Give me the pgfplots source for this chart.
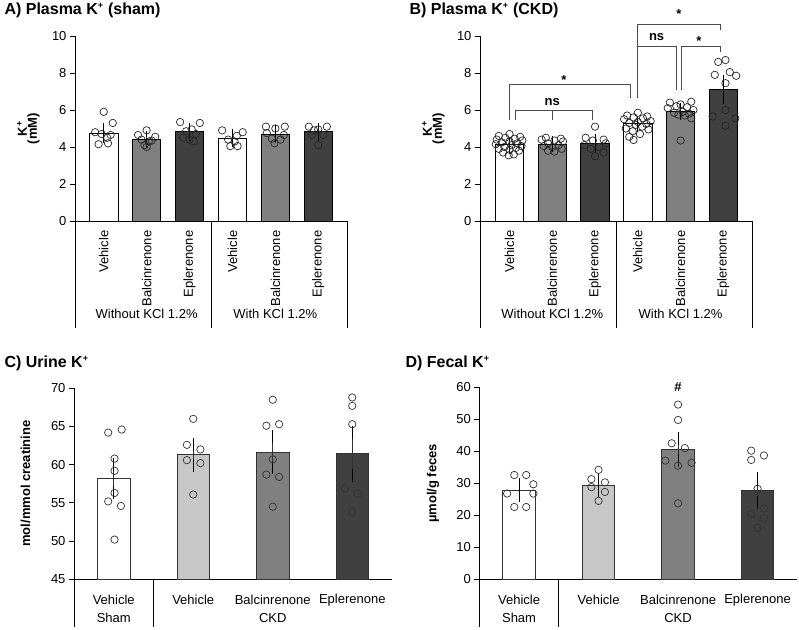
\documentclass[border=0pt]{standalone}
\usepackage{pgfplots}
\pgfplotsset{compat=1.18}
\usepackage{fontspec}
\setmainfont{Liberation Sans}

\definecolor{barmid}{gray}{0.5}
\definecolor{bardark}{gray}{0.25}
\definecolor{barlight}{gray}{0.78}
\definecolor{edgegray}{gray}{0.2}
\definecolor{brk}{gray}{0.3}

\newcommand{\tfont}{\fontsize{13}{15}\selectfont}
\newcommand{\hfont}{\bfseries\fontsize{16}{18}\selectfont}
\newcommand{\plus}{\textsuperscript{\fontsize{9}{9}\selectfont +}}

\pgfplotsset{
  panel/.style={
    scale only axis,
    axis lines=left,
    axis line style={-, line width=0.9pt},
    tick align=outside,
    major tick length=5pt,
    ytick style={line width=0.9pt, black},
    xtick style={draw=none},
    /pgf/number format/assume math mode=true,
    tick label style={font=\tfont},
    clip=false,
  },
  ebars/.style={
    /pgfplots/error bars/y dir=both,
    /pgfplots/error bars/y explicit,
    /pgfplots/error bars/error bar style={line width=#1},
    /pgfplots/error bars/error mark options={line width=#1, mark size=6.5pt},
  },
  barsAB/.style={ybar, bar width=28.5pt, bar shift=0pt, draw=black, line width=0.9pt, ebars=0.9pt},
  barsCD/.style={ybar, bar width=32.5pt, bar shift=0pt, draw=edgegray, line width=0.8pt, ebars=0.7pt},
  dotsAB/.style={only marks, mark=o, mark size=3.7pt, mark options={draw=black!85, line width=0.7pt}},
  dotsCD/.style={only marks, mark=o, mark size=3.7pt, mark options={draw=edgegray, line width=0.7pt}},
}

\begin{document}
\begin{tikzpicture}
\useasboundingbox (0,0) rectangle (799pt,629pt);

% ---------------- A) Plasma K+ (sham) ----------------
\node[anchor=base west, font=\hfont] at (1pt,614pt) {A) Plasma K\plus{} (sham)};
\node[rotate=90, font=\bfseries\tfont] at (22pt,500.5pt) {K\plus};
\node[rotate=90, font=\bfseries\tfont] at (33.5pt,500.5pt) {(mM)};
\begin{axis}[panel, at={(75pt,408pt)}, anchor=south west, width=272pt, height=185pt,
  xmin=-0.67, xmax=5.67, ymin=0, ymax=10, ytick={0,2,...,10},
  xtick={0,...,5},
  xticklabels={Vehicle,Balcinrenone,Eplerenone,Vehicle,Balcinrenone,Eplerenone},
  xticklabel style={rotate=90, anchor=east}, xticklabel shift=1pt]
\addplot[barsAB, fill=white] table[x=x, y=y, y error=e] {
x y e
0 4.75 0.18
3 4.48 0.13
};
\addplot[barsAB, fill=barmid] table[x=x, y=y, y error=e] {
x y e
1 4.40 0.10
4 4.70 0.12
};
\addplot[barsAB, fill=bardark] table[x=x, y=y, y error=e] {
x y e
2 4.83 0.13
5 4.82 0.12
};
\addplot[dotsAB] coordinates {
(0.00,5.9) (0.21,5.3) (-0.20,4.8) (0.16,4.65) (-0.05,4.7) (0.08,4.5) (-0.12,4.15) (0.10,4.2)
(1.00,4.9) (0.80,4.65) (1.20,4.55) (0.88,4.4) (1.12,4.35) (1.05,4.3) (0.95,4.1) (1.00,4.0)
(1.78,5.35) (2.24,5.3) (2.05,4.95) (1.92,4.85) (2.15,4.7) (1.85,4.5) (2.00,4.4) (2.10,4.3)
(2.76,4.9) (3.24,4.8) (3.10,4.6) (2.90,4.4) (3.05,4.3) (2.95,4.05) (3.12,4.05)
(3.78,5.1) (4.00,5.0) (4.22,5.1) (3.80,4.75) (4.20,4.65) (3.92,4.45) (4.12,4.4) (3.98,4.2)
(4.78,5.1) (5.20,5.1) (5.00,4.95) (4.90,4.9) (4.85,4.65) (5.12,4.65) (5.00,4.1)
};
\draw[line width=0.9pt] (rel axis cs:0,0) -- ++(0pt,-107pt);
\draw[line width=0.9pt] (axis cs:2.5,0) -- ++(0pt,-107pt);
\draw[line width=0.9pt] (rel axis cs:1,0) -- ++(0pt,-107pt);
\node[font=\tfont] at (axis cs:1,0) [yshift=-93pt] {Without KCl 1.2\%};
\node[font=\tfont] at (axis cs:4,0) [yshift=-93pt] {With KCl 1.2\%};
\end{axis}

% ---------------- B) Plasma K+ (CKD) ----------------
\node[anchor=base west, font=\hfont] at (406pt,614pt) {B) Plasma K\plus{} (CKD)};
\node[rotate=90, font=\bfseries\tfont] at (427pt,500.5pt) {K\plus};
\node[rotate=90, font=\bfseries\tfont] at (438.5pt,500.5pt) {(mM)};
\begin{axis}[panel, at={(480pt,408pt)}, anchor=south west, width=272pt, height=185pt,
  xmin=-0.69, xmax=5.67, ymin=0, ymax=10, ytick={0,2,...,10},
  xtick={0,...,5},
  xticklabels={Vehicle,Balcinrenone,Eplerenone,Vehicle,Balcinrenone,Eplerenone},
  xticklabel style={rotate=90, anchor=east}, xticklabel shift=1pt]
\addplot[barsAB, fill=white] table[x=x, y=y, y error=e] {
x y e
0 4.12 0.07
3 5.25 0.10
};
\addplot[barsAB, fill=barmid] table[x=x, y=y, y error=e] {
x y e
1 4.15 0.07
4 5.92 0.12
};
\addplot[barsAB, fill=bardark] table[x=x, y=y, y error=e] {
x y e
2 4.20 0.15
5 7.10 0.45
};
\addplot[dotsAB] coordinates {
(0.00,4.7) (-0.25,4.6) (0.25,4.55) (-0.10,4.5) (0.12,4.45) (-0.30,4.4) (0.30,4.35)
(0.00,4.3) (-0.18,4.25) (0.18,4.2) (-0.32,4.15) (0.05,4.1) (0.28,4.05) (-0.12,4.0)
(0.15,3.95) (-0.25,3.9) (0.00,3.85) (0.22,3.8) (-0.15,3.7) (0.10,3.6) (-0.02,3.55)
(0.85,4.5) (1.20,4.45) (0.75,4.4) (1.05,4.35) (1.25,4.3) (0.90,4.2) (1.15,4.1)
(0.80,4.05) (1.00,4.0) (1.22,3.9) (0.90,3.8) (1.05,3.75)
(2.00,5.1) (1.78,4.5) (2.20,4.4) (1.95,4.35) (2.25,4.2) (1.75,4.1) (2.10,4.0)
(1.90,3.9) (2.20,3.7) (2.00,3.5)
(3.00,5.85) (2.75,5.7) (3.22,5.65) (2.90,5.6) (3.12,5.55) (2.68,5.5) (3.30,5.4)
(3.00,5.35) (2.80,5.3) (3.20,5.25) (2.95,5.2) (3.10,5.1) (2.72,5.0) (3.25,4.95)
(2.88,4.85) (3.05,4.7) (2.80,4.55) (2.90,4.38)
(4.25,6.45) (3.75,6.4) (4.00,6.3) (3.90,6.2) (4.15,6.15) (3.70,6.1) (4.30,6.0)
(4.05,5.9) (3.85,5.85) (4.20,5.8) (3.95,5.75) (4.10,5.7) (4.25,5.55) (4.00,4.35)
(4.88,8.6) (5.05,8.7) (4.80,7.9) (5.15,8.05) (5.30,7.85) (5.05,7.45) (5.05,6.0)
(4.75,5.65) (5.28,5.55) (5.05,5.15)
};
\draw[line width=0.9pt] (rel axis cs:0,0) -- ++(0pt,-107pt);
\draw[line width=0.9pt] (axis cs:2.5,0) -- ++(0pt,-107pt);
\draw[line width=0.9pt] (rel axis cs:1,0) -- ++(0pt,-107pt);
\node[font=\tfont] at (axis cs:1,0) [yshift=-93pt] {Without KCl 1.2\%};
\node[font=\tfont] at (axis cs:4,0) [yshift=-93pt] {With KCl 1.2\%};
% significance brackets
\begin{scope}[draw=brk, line width=0.9pt]
\draw (axis cs:0.15,5.45) -- (axis cs:0.15,5.96) -- (axis cs:1.93,5.96) -- (axis cs:1.93,5.45);
\draw (axis cs:1,5.96) -- (axis cs:1,5.45);
\draw (axis cs:0,5.46) -- (axis cs:0,7.4) -- (axis cs:2.83,7.4) -- (axis cs:2.83,6.65);
\draw (axis cs:2.98,6.65) -- (axis cs:2.98,10.65) -- (axis cs:4.94,10.65) -- (axis cs:4.94,10.3);
\draw (axis cs:2.98,9.42) -- (axis cs:3.91,9.42) -- (axis cs:3.91,7.08);
\draw (axis cs:4.02,7.08) -- (axis cs:4.02,9.42) -- (axis cs:4.94,9.42) -- (axis cs:4.94,9.15);
\end{scope}
\node[font=\bfseries\tfont] at (axis cs:1,6.43) {ns};
\node[font=\bfseries\tfont] at (axis cs:1.27,7.64) {*};
\node[font=\bfseries\tfont] at (axis cs:3.44,9.96) {ns};
\node[font=\bfseries\tfont] at (axis cs:4.43,9.75) {*};
\node[font=\bfseries\tfont] at (axis cs:3.96,11.17) {*};
\end{axis}

% ---------------- C) Urine K+ ----------------
\node[anchor=base west, font=\hfont] at (1pt,261pt) {C) Urine K\plus};
\node[rotate=90, font=\bfseries\tfont] at (25.5pt,145.5pt) {mol/mmol creatinine};
\begin{axis}[panel, at={(74pt,49.7pt)}, anchor=south west, width=318pt, height=191pt,
  xmin=-0.5, xmax=3.5, ymin=45, ymax=70, ytick={45,50,...,70},
  xtick={0,...,3}, xticklabels={Vehicle,Vehicle,Balcinrenone,Eplerenone},
  xticklabel style={anchor=center, yshift=-16pt}]
\addplot[barsCD, fill=white] table[x=x, y=y, y error=e] {
x y e
0 58.2 1.85
};
\addplot[barsCD, fill=barlight] table[x=x, y=y, y error=e] {
x y e
1 61.3 1.4
};
\addplot[barsCD, fill=barmid] table[x=x, y=y, y error=e] {
x y e
2 61.65 2.0
};
\addplot[barsCD, fill=bardark] table[x=x, y=y, y error=e] {
x y e
3 61.45 2.8
};
\addplot[dotsCD] coordinates {
(-0.07,64.2) (0.10,64.6) (0.01,60.8) (0.01,59.2) (0.01,56.3) (-0.07,55.2) (0.09,54.6) (0.01,50.2)
(0.92,62.6) (1.09,62.0) (0.92,60.6) (1.09,60.2) (1.00,66.0) (1.00,56.1)
(2.00,68.5) (1.92,65.1) (2.08,65.3) (2.00,60.7) (1.92,58.7) (2.08,58.4) (2.00,54.5)
(3.00,68.8) (3.00,67.7) (3.00,65.3) (2.91,56.9) (3.07,56.2) (3.00,53.8)
};
\draw[line width=0.9pt] (rel axis cs:0,0) -- ++(0pt,-48pt);
\draw[line width=0.9pt] (axis cs:0.5,45) -- ++(0pt,-48pt);
\node[font=\tfont] at (axis cs:0,45) [yshift=-38.7pt] {Sham};
\node[font=\tfont] at (axis cs:2,45) [yshift=-38.7pt] {CKD};
\end{axis}

% ---------------- D) Fecal K+ ----------------
\node[anchor=base west, font=\hfont] at (402pt,261pt) {D) Fecal K\plus};
\node[rotate=90, font=\bfseries\tfont] at (433pt,145.7pt) {µmol/g feces};
\begin{axis}[panel, at={(479.3pt,49.7pt)}, anchor=south west, width=318pt, height=192pt,
  xmin=-0.5, xmax=3.5, ymin=0, ymax=60, ytick={0,10,...,60},
  xtick={0,...,3}, xticklabels={Vehicle,Vehicle,Balcinrenone,Eplerenone},
  xticklabel style={anchor=center, yshift=-16pt}]
\addplot[barsCD, fill=white] table[x=x, y=y, y error=e] {
x y e
0 27.8 1.7
};
\addplot[barsCD, fill=barlight] table[x=x, y=y, y error=e] {
x y e
1 29.5 1.6
};
\addplot[barsCD, fill=barmid] table[x=x, y=y, y error=e] {
x y e
2 40.5 3.4
};
\addplot[barsCD, fill=bardark] table[x=x, y=y, y error=e] {
x y e
3 27.8 3.8
};
\addplot[dotsCD] coordinates {
(-0.06,32.6) (0.09,32.6) (0.18,29.7) (-0.15,26.8) (0.18,26.8) (-0.06,22.6) (0.09,22.6)
(1.00,34.2) (0.91,31.3) (1.08,30.3) (0.91,28.8) (1.08,27.3) (1.00,24.5)
(2.00,54.6) (2.00,49.8) (1.92,42.5) (2.085,41.0) (1.84,37.1) (2.17,36.4) (2.00,35.5) (2.00,23.75)
(2.92,40.2) (3.08,38.7) (2.92,37.3) (3.00,28.3) (3.08,22.2) (2.92,20.4) (3.08,19.2) (3.00,16.1)
};
\draw[line width=0.9pt] (rel axis cs:0,0) -- ++(0pt,-48pt);
\draw[line width=0.9pt] (axis cs:0.5,0) -- ++(0pt,-48pt);
\node[font=\tfont] at (axis cs:0,0) [yshift=-38.7pt] {Sham};
\node[font=\tfont] at (axis cs:2,0) [yshift=-38.7pt] {CKD};
\node[font=\bfseries\tfont] at (axis cs:2,60.2) {\#};
\end{axis}
\end{tikzpicture}
\end{document}
